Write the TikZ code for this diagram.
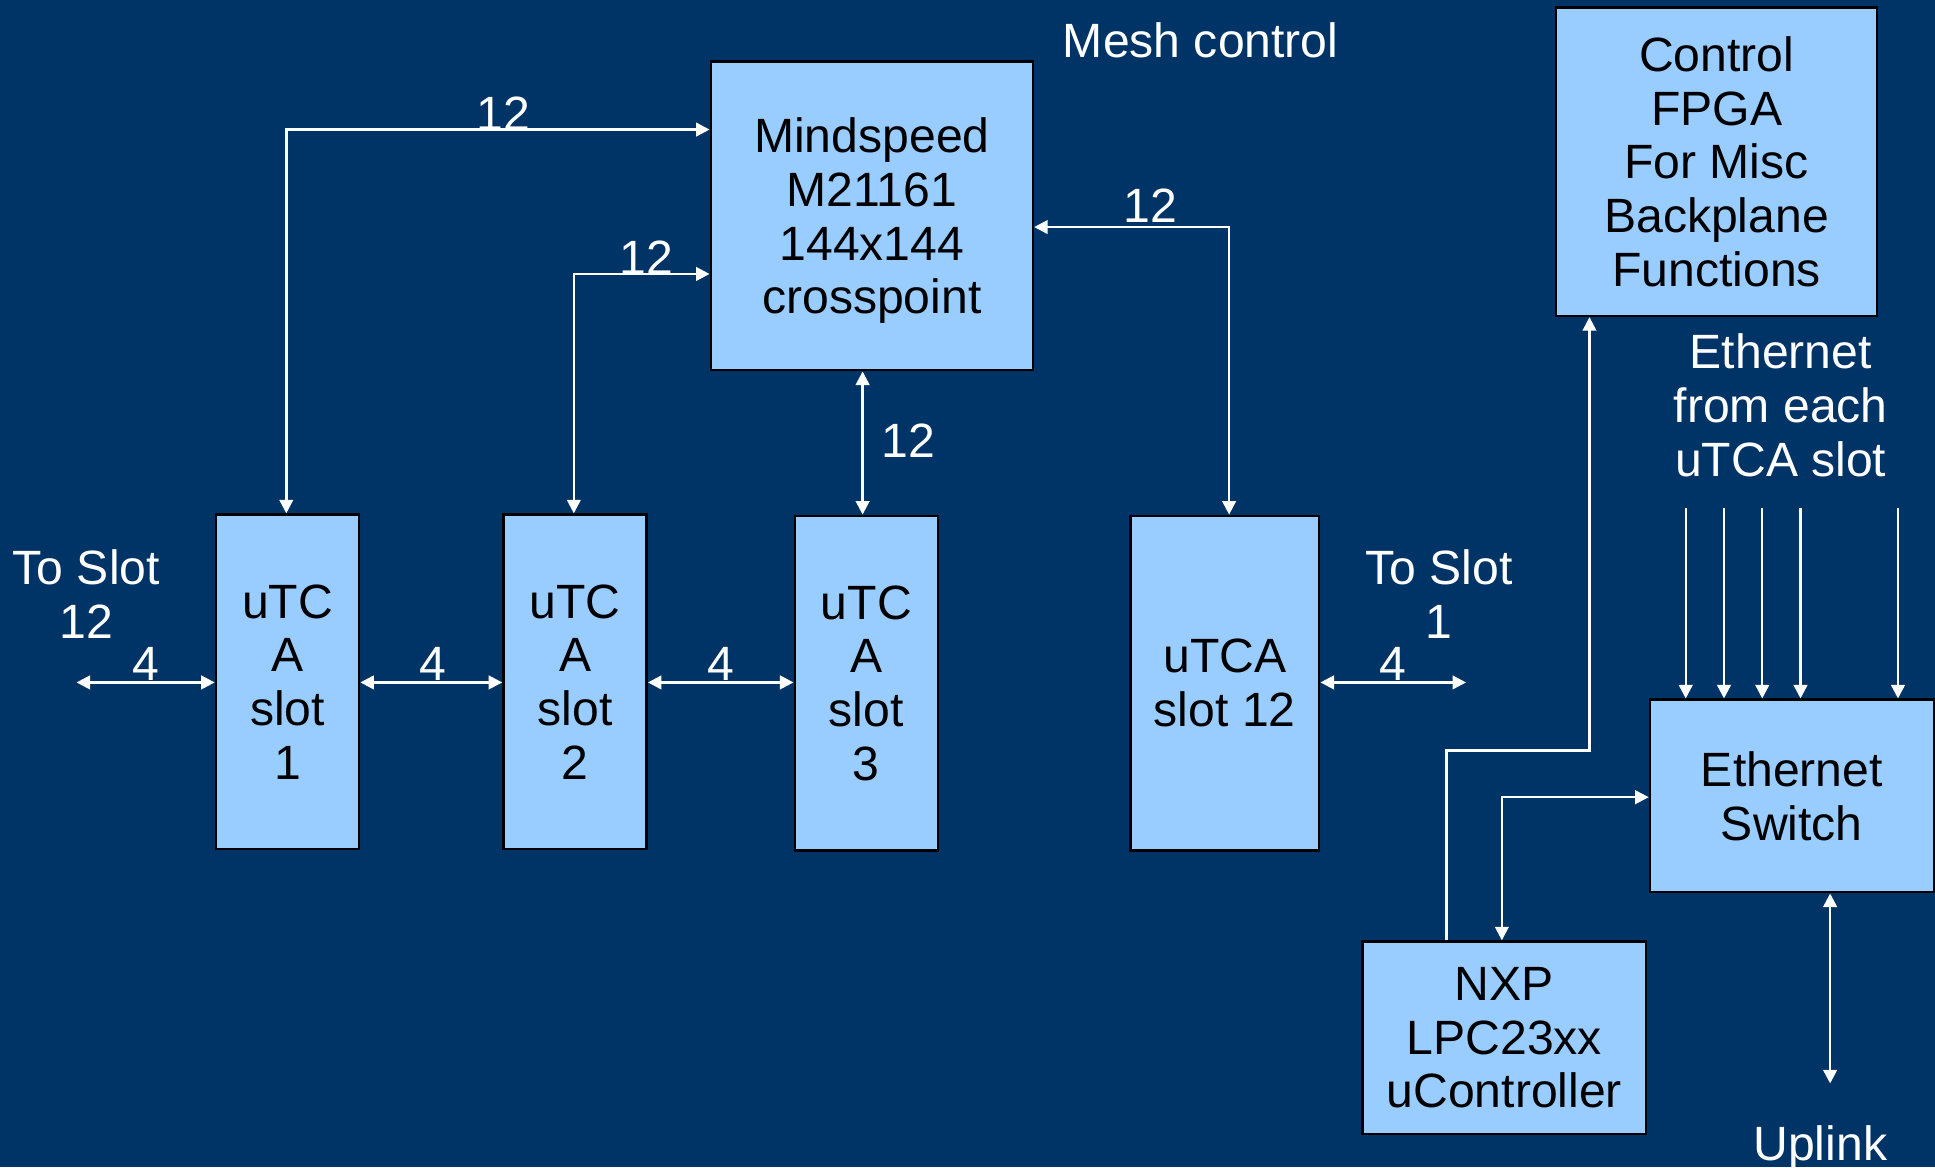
\documentclass[tikz,border=0pt]{standalone}
\usepackage{fontspec}
\setmainfont{Liberation Sans}
\usetikzlibrary{arrows.meta}
\definecolor{bgblue}{HTML}{003366}
\definecolor{boxblue}{HTML}{99CCFF}
\tikzset{
  txt/.style={font=\fontsize{19.5pt}{21.75pt}\selectfont, align=center, inner sep=0pt},
  box/.style={txt, draw=black, line width=1pt, fill=boxblue, text=black},
  lbl/.style={txt, text=white},
  wire/.style={draw=white, line width=1pt, >={Triangle[length=5.5pt,width=5.5pt]}},
}
\begin{document}
\begin{tikzpicture}[x=0.5pt,y=-0.5pt]
\fill[bgblue] (0,0) rectangle (1568,946);
\useasboundingbox (0,0) rectangle (1568,946);

% boxes
\node[box, minimum width=130.5pt, minimum height=125pt, text depth=0pt] (mind) at (706.5,175) {Mindspeed\\M21161\\144x144\\crosspoint};
\node[box, minimum width=130pt, minimum height=125pt] (fpga) at (1391,131) {Control\\FPGA\\For Misc\\Backplane\\Functions};
\node[box, minimum width=58pt, minimum height=135.5pt] (slot1) at (233,552.5) {uTC\\A\\slot\\1};
\node[box, minimum width=58pt, minimum height=135.5pt] (slot2) at (466,552.5) {uTC\\A\\slot\\2};
\node[box, minimum width=58pt, minimum height=135.5pt] (slot3) at (702,553.5) {uTC\\A\\slot\\3};
\node[box, minimum width=76.5pt, minimum height=135.5pt] (slot12) at (992.5,553.5) {uTCA\\slot 12};
\node[box, minimum width=115pt, minimum height=78pt] (eth) at (1452,645) {Ethernet\\Switch};
\node[box, minimum width=115pt, minimum height=78pt] (nxp) at (1219,841) {NXP\\LPC23xx\\uController};

% labels
\node[lbl] (mesh) at (973,33) {Mesh control};
\node[lbl] (n12a) at (408,92) {12};
\node[lbl] (n12b) at (524,209) {12};
\node[lbl] (n12c) at (932,167) {12};
\node[lbl] (n12d) at (736,357) {12};
\node[lbl] (toslot12) at (70,481.5) {To Slot\\12};
\node[lbl] (toslot1) at (1166,481.5) {To Slot\\1};
\node[lbl] (f4a) at (118,538) {4};
\node[lbl] (f4b) at (351,538) {4};
\node[lbl] (f4c) at (584,538) {4};
\node[lbl] (f4d) at (1129,538) {4};
\node[lbl] (ethin) at (1443,328.5) {Ethernet\\from each\\uTCA slot};
\node[lbl, anchor=base] (uplink) at (1475,940) {Uplink};

% crosspoint connections
\coordinate (c1) at (232,105);
\draw[wire,<->] (slot1.north -| c1) -- (c1) -- (mind.west |- c1);
\coordinate (c2) at (465,222);
\draw[wire,<->] (slot2.north -| c2) -- (c2) -- (mind.west |- c2);
\coordinate (c3) at (699,0);
\draw[wire,<->] (slot3.north -| c3) -- (mind.south -| c3);
\coordinate (c12) at (996,184);
\draw[wire,<->] (mind.east |- c12) -- (c12) -- (slot12.north -| c12);

% slot-to-slot
\coordinate (l1) at (62,553);
\coordinate (r1) at (1188,553);
\draw[wire,<->] (l1) -- (slot1.west |- l1);
\draw[wire,<->] (slot1.east |- l1) -- (slot2.west |- l1);
\draw[wire,<->] (slot2.east |- l1) -- (slot3.west |- l1);
\draw[wire,<->] (slot12.east |- l1) -- (r1);

% ethernet inputs
\foreach \i/\xx in {1/1366,2/1397,3/1428,4/1459,5/1538}{
  \coordinate (e\i) at (\xx,412);
  \draw[wire,->] (e\i) -- (e\i |- eth.north);
}

% NXP to FPGA
\coordinate (f1) at (1172,608);
\coordinate (f2) at (1288,608);
\draw[wire,->] (nxp.north -| f1) -- (f1) -- (f2) -- (fpga.south -| f2);

% NXP to Ethernet switch
\coordinate (n1) at (1217,646);
\draw[wire,<->] (nxp.north -| n1) -- (n1) -- (eth.west |- n1);

% uplink
\coordinate (u1) at (1483,878);
\draw[wire,<->] (eth.south -| u1) -- (u1);
\end{tikzpicture}
\end{document}
